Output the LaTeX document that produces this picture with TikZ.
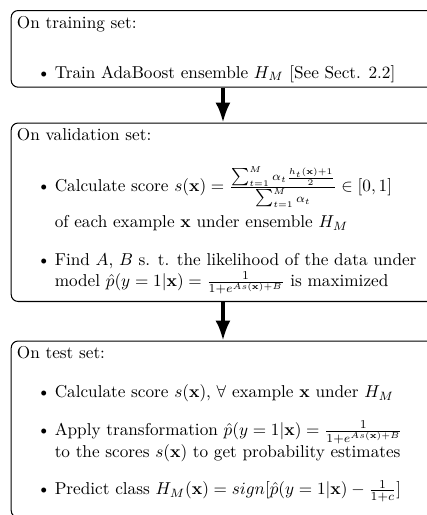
\documentclass[tikz,border=0pt]{standalone}
\usepackage{amsmath}
\usepackage{enumitem}
\usetikzlibrary{arrows.meta}

% list layout used inside every stage box
\setlist[itemize]{leftmargin=22pt,labelsep=2.5pt,partopsep=0pt,parsep=0pt,itemsep=10pt}

\newcommand{\bx}{\mathbf{x}}
% summation sign kept at text size inside small fractions, limits on the side
\newcommand{\tsum}{\mathop{\mbox{$\textstyle\sum$}}\nolimits}
% fixed-height, top-aligned body of a stage box; baselines kept on a fixed grid
\newcommand{\stagetext}[2]{\begin{minipage}[t][#1][t]{239.6pt}\setlength{\lineskiplimit}{-100pt}#2\end{minipage}}

\tikzset{
  stage/.style={draw,line width=0.6pt,rounded corners=4pt,anchor=north west,inner sep=3.33pt},
  flow/.style={-{Latex[length=11.5pt,width=8.7pt]},line width=2pt},
}

\begin{document}
\begin{tikzpicture}[x=0.5814pt,y=-0.5814pt]
\useasboundingbox (0,0) rectangle (427,515);
\begin{scope}
\clip (0,0) rectangle (427,515);

\node[stage] (train) at (10.7,10) {\stagetext{37.9pt}{%
  On training set:
  \begin{itemize}[topsep=17pt]
  \item Train AdaBoost ensemble $H_M$ [See Sect. 2.2]
  \end{itemize}}};

\node[stage] (valid) at (10.7,122.5) {\stagetext{97.1pt}{%
  On validation set:
  \begin{itemize}[topsep=17.4pt]
  \item Calculate score $s(\bx)=\frac{\tsum_{t=1}^{M}\alpha_t\frac{h_t(\bx)+1}{2}}{\tsum_{t=1}^{M}\alpha_t}\in[0,1]$\\[9.1pt]
        of each example $\bx$ under ensemble $H_M$
  \item Find $A$, $B$ s. t. the likelihood of the data under\\
        model $\hat{p}(y=1|\bx)=\frac{1}{1+e^{As(\bx)+B}}$ is maximized
  \end{itemize}}};

\node[stage] (test) at (10.7,340.5) {\stagetext{95.9pt}{%
  On test set:
  \begin{itemize}[topsep=10.6pt]
  \item Calculate score $s(\bx)$, $\forall$ example $\bx$ under $H_M$
  \item Apply transformation $\hat{p}(y=1|\bx)=\frac{1}{1+e^{As(\bx)+B}}$\\[0.5pt]
        to the scores $s(\bx)$ to get probability estimates
  \item Predict class $H_M(\bx)=sign[\hat{p}(y=1|\bx)-\frac{1}{1+c}]$
  \end{itemize}}};

\draw[flow] (train) -- (valid);
\draw[flow] (valid) -- (test);
\end{scope}
\end{tikzpicture}
\end{document}
